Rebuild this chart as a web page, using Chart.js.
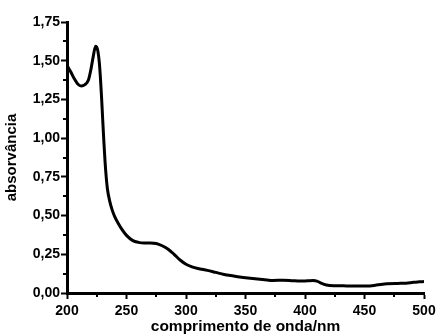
<!DOCTYPE html>
<html>
<head>
<meta charset="utf-8">
<script src="https://cdn.jsdelivr.net/npm/chart.js@4/dist/chart.umd.min.js"></script>
<style>
  html, body { margin: 0; padding: 0; background: #fff; }
  #wrap { width: 437px; height: 336px; }
</style>
</head>
<body>
<div id="wrap"><canvas id="c" width="437" height="336"></canvas></div>
<script>
const wavelengths = [200,203,206,209,212,215,218,220,222,224,225,226,227,228,229,230,231,232,233,234,236,238,240,243,246,250,255,260,265,270,275,280,285,290,295,300,305,310,318,325,332,340,345,352,360,368,373,382,390,396,402,407,410,413,418,425,435,445,452,460,469,478,485,491,496,500];
const absorbance = [1.47,1.43,1.385,1.35,1.337,1.345,1.375,1.44,1.525,1.593,1.588,1.56,1.5,1.40,1.27,1.12,0.975,0.845,0.745,0.67,0.59,0.535,0.495,0.45,0.412,0.372,0.34,0.327,0.323,0.323,0.32,0.305,0.283,0.25,0.213,0.186,0.169,0.158,0.146,0.133,0.12,0.11,0.104,0.097,0.09,0.084,0.081,0.083,0.079,0.077,0.079,0.081,0.077,0.066,0.052,0.047,0.046,0.045,0.045,0.051,0.06,0.062,0.063,0.069,0.072,0.074];
const xTickValues = [200,250,300,350,400,450,500];
const xTickLabels = ['200','250','300','350','400','450','500'];
const yTickValues = [0,0.25,0.5,0.75,1,1.25,1.5,1.75];
const yTickLabels = ['0,00','0,25','0,50','0,75','1,00','1,25','1,50','1,75'];
const xTitle = 'comprimento de onda/nm';
const yTitle = 'absorvância';

const FONT = "'Liberation Sans', Arial, sans-serif";

function labelFor(values, labels, v) {
  for (let i = 0; i < values.length; i++) if (Math.abs(values[i] - v) < 1e-6) return labels[i];
  return '';
}
function isMajor(values, v) { return values.some(t => Math.abs(t - v) < 1e-6); }

const minorTicks = {
  id: 'minorTicks',
  afterDraw(chart) {
    const ctx = chart.ctx;
    ctx.save();
    ctx.strokeStyle = '#000';
    ctx.lineWidth = 2;
    const xs = chart.scales.x, ys = chart.scales.y;
    xs.ticks.forEach(t => {
      if (!isMajor(xTickValues, t.value)) {
        const px = Math.round(xs.getPixelForValue(t.value));
        ctx.beginPath(); ctx.moveTo(px, xs.top); ctx.lineTo(px, xs.top + 4); ctx.stroke();
      }
    });
    ys.ticks.forEach(t => {
      if (!isMajor(yTickValues, t.value)) {
        const py = Math.round(ys.getPixelForValue(t.value));
        ctx.beginPath(); ctx.moveTo(ys.right, py); ctx.lineTo(ys.right - 4, py); ctx.stroke();
      }
    });
    ctx.restore();
  }
};

new Chart(document.getElementById('c'), {
  type: 'line',
  data: {
    datasets: [{
      data: wavelengths.map((w, i) => ({ x: w, y: absorbance[i] })),
      borderColor: '#000',
      borderWidth: 3,
      pointRadius: 0,
      fill: false,
      cubicInterpolationMode: 'monotone'
    }]
  },
  options: {
    responsive: false,
    animation: false,
    devicePixelRatio: 1,
    layout: { padding: { left: 0, right: 13, top: 22, bottom: 0 } },
    plugins: { legend: { display: false }, tooltip: { enabled: false } },
    scales: {
      x: {
        type: 'linear', min: 200, max: 500,
        afterFit(s) { s.height = 43; s.paddingLeft = 0; s.paddingRight = 0; },
        border: { display: true, color: '#000', width: 3 },
        grid: {
          drawOnChartArea: false, drawTicks: true, tickLength: 6,
          tickWidth: 2,
          tickColor: ctx => isMajor(xTickValues, ctx.tick.value) ? '#000' : 'rgba(0,0,0,0)'
        },
        ticks: {
          stepSize: 25, autoSkip: false, maxRotation: 0, padding: 4, color: '#000',
          font: { family: FONT, size: 14, weight: 'bold' },
          callback: v => labelFor(xTickValues, xTickLabels, v)
        },
        title: {
          display: true, text: xTitle, color: '#000',
          font: { family: FONT, size: 15.5, weight: 'bold' },
          padding: { top: 0, bottom: 0 }
        }
      },
      y: {
        type: 'linear', min: 0, max: 1.75,
        afterFit(s) { s.width = 67; s.paddingTop = 0; s.paddingBottom = 0; },
        border: { display: true, color: '#000', width: 3 },
        grid: {
          drawOnChartArea: false, drawTicks: true, tickLength: 6,
          tickWidth: 2,
          tickColor: ctx => isMajor(yTickValues, ctx.tick.value) ? '#000' : 'rgba(0,0,0,0)'
        },
        ticks: {
          stepSize: 0.125, autoSkip: false, padding: 1, color: '#000',
          font: { family: FONT, size: 14, weight: 'bold' },
          callback: v => labelFor(yTickValues, yTickLabels, v)
        },
        title: {
          display: true, text: yTitle, color: '#000',
          font: { family: FONT, size: 15, weight: 'bold' },
          padding: { top: 3, bottom: 0 }
        }
      }
    }
  },
  plugins: [minorTicks]
});
</script>
</body>
</html>
